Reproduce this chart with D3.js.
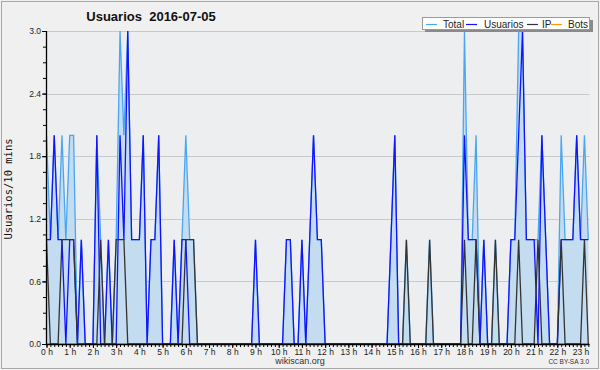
<!DOCTYPE html>
<html>
<head>
<meta charset="utf-8">
<script src="https://cdn.jsdelivr.net/npm/d3@7"></script>
<style>
  body { margin: 0; background: #f0f0f0; }
  svg { display: block; font-family: "Liberation Sans", Arial, sans-serif; }
</style>
</head>
<body>
<svg width="600" height="370"></svg>
<script>
var chartTitle = "Usuarios  2016-07-05";
var yLabel = "Usuarios/10 mins";

// values every 10 minutes, 00:00 .. 23:20 (what is visible in the plot)
var total = [
  2,1,2,1,2,1,2,2,0,1, 0,0,0,2,1,0,1,0,1,3, 2,3,1,1,1,2,0,1,1,2,
  0,0,0,1,0,1,2,1,1,0, 0,0,0,0,0,0,0,0,0,0, 0,0,0,0,1,0,0,0,0,0,
  0,0,1,1,0,0,1,0,1,2, 1,1,0,0,0,0,0,0,0,0, 0,0,0,0,0,0,0,0,0,1,
  2,0,0,1,0,0,0,0,0,1, 0,0,0,0,0,0,0,0,3,1, 1,2,0,1,0,0,1,0,0,0,
  1,1,3,3,1,1,1,1,2,1, 0,0,0,2,1,1,1,2,1,2, 1
];
var usuarios = [
  1,1,2,1,1,0,1,1,0,1, 0,0,0,2,0,0,1,0,0,2, 1,3,1,1,1,2,0,1,1,2,
  0,0,0,1,0,1,1,0,0,0, 0,0,0,0,0,0,0,0,0,0, 0,0,0,0,1,0,0,0,0,0,
  0,0,1,1,0,0,1,0,1,2, 1,1,0,0,0,0,0,0,0,0, 0,0,0,0,0,0,0,0,0,1,
  2,0,0,0,0,0,0,0,0,0, 0,0,0,0,0,0,0,0,2,1, 1,1,0,1,0,0,0,0,0,0,
  1,1,2,3,1,1,1,0,2,1, 0,0,0,1,1,1,1,2,1,1, 1
];
var ip = [
  1,0,0,0,1,1,1,1,0,0, 0,0,0,0,1,0,0,0,1,1, 1,0,0,0,0,0,0,0,0,0,
  0,0,0,0,0,0,1,1,1,0, 0,0,0,0,0,0,0,0,0,0, 0,0,0,0,0,0,0,0,0,0,
  0,0,0,0,0,0,0,0,0,0, 0,0,0,0,0,0,0,0,0,0, 0,0,0,0,0,0,0,0,0,0,
  0,0,0,1,0,0,0,0,0,1, 0,0,0,0,0,0,0,0,1,0, 0,1,0,0,0,0,1,0,0,0,
  0,0,1,0,0,0,0,1,0,0, 0,0,0,1,0,0,0,0,0,1, 0
];
var bots = [
  0,0,0,0,0,0,0,0,0,0, 0,0,0,0,0,0,0,0,0,0, 0,0,0,0,0,0,0,0,0,0,
  0,0,0,0,0,0,0,0,0,0, 0,0,0,0,0,0,0,0,0,0, 0,0,0,0,0,0,0,0,0,0,
  0,0,0,0,0,0,0,0,0,0, 0,0,0,0,0,0,0,0,0,0, 0,0,0,0,0,0,0,0,0,0,
  0,0,0,0,0,0,0,0,0,0, 0,0,0,0,0,0,0,0,0,0, 0,0,0,0,0,0,0,0,0,0,
  0,0,0,0,0,0,0,0,0,0, 0,0,0,0,0,0,0,0,0,0, 0
];
var seriesNames = ["Total", "Usuarios", "IP", "Bots"];
var seriesColors = ["#4aa6f0", "#1212ff", "#333333", "#ff9900"];
var hourLabels = ["0 h","1 h","2 h","3 h","4 h","5 h","6 h","7 h","8 h","9 h","10 h","11 h",
  "12 h","13 h","14 h","15 h","16 h","17 h","18 h","19 h","20 h","21 h","22 h","23 h"];
var yTicks = [0, 0.6, 1.2, 1.8, 2.4, 3.0];

var svg = d3.select("svg"),
  plot = { left: 46, right: 589.5, top: 31, bottom: 344 };

// page frame
svg.append("rect")
  .attr("x", 1.5).attr("y", 1.5).attr("width", 597).attr("height", 367)
  .attr("fill", "#f0f0f0").attr("stroke", "#a8a8a8");

svg.append("rect")
  .attr("x", plot.left).attr("y", plot.top)
  .attr("width", plot.right - plot.left).attr("height", plot.bottom - plot.top)
  .attr("fill", "#eceef0");

// index of 10 min step -> x ; 24 h spans a bit more than the plot, the end is clipped
var x = d3.scaleLinear().domain([0, 144]).range([46.5, 46.5 + 144 * 3.87]),
  y = d3.scaleLinear().domain([0, 3]).range([plot.bottom, plot.top]);

svg.append("clipPath").attr("id", "clip")
  .append("rect")
  .attr("x", plot.left).attr("y", plot.top - 2)
  .attr("width", plot.right - plot.left).attr("height", plot.bottom - plot.top + 2);

// grid
svg.append("g")
  .selectAll("line")
  .data(yTicks.slice(1))
  .enter().append("line")
  .attr("x1", plot.left).attr("x2", plot.right)
  .attr("y1", function(d) { return Math.round(y(d)) + 0.5; })
  .attr("y2", function(d) { return Math.round(y(d)) + 0.5; })
  .attr("stroke", "#c9c9c9");

var g = svg.append("g").attr("clip-path", "url(#clip)");

var area = d3.area()
  .x(function(d, i) { return x(i); })
  .y0(y(0))
  .y1(function(d) { return y(d); });

var line = d3.line()
  .x(function(d, i) { return x(i); })
  .y(function(d) { return y(d); });

g.append("path")
  .attr("d", area(total))
  .attr("fill", "#c4dcf0");

// drawing order: bots under everything, IP on top
var lines = [bots, total, usuarios, ip];
var lineColors = [seriesColors[3], seriesColors[0], seriesColors[1], seriesColors[2]];
lines.forEach(function(s, k) {
  g.append("path")
    .attr("d", line(s))
    .attr("fill", "none")
    .attr("stroke", lineColors[k])
    .attr("stroke-width", 1.3);
});

// x axis
var xAxis = svg.append("g")
  .attr("transform", "translate(0," + plot.bottom + ")");
xAxis.append("g")
  .call(d3.axisBottom(x).tickValues(d3.range(0, 141)).tickSize(3).tickFormat(""))
  .call(function(a) { a.select(".domain").remove(); });
xAxis.append("g")
  .call(d3.axisBottom(x)
    .tickValues(hourLabels.map(function(d, i) { return i * 6; }))
    .tickSize(4)
    .tickPadding(1)
    .tickFormat(function(d) { return hourLabels[d / 6]; }))
  .call(function(a) { a.select(".domain").remove(); })
  .selectAll("text")
  .attr("font-size", 8.5)
  .attr("fill", "#222")
  .attr("font-family", "Liberation Sans, Arial, sans-serif");
xAxis.selectAll(".tick line").attr("stroke", "#000");
xAxis.append("line")
  .attr("x1", plot.left).attr("x2", plot.right)
  .attr("y1", 0.5).attr("y2", 0.5)
  .attr("stroke", "#000").attr("stroke-width", 1.3);

// y axis
var yAxis = svg.append("g")
  .attr("transform", "translate(" + plot.left + ",0)");
yAxis.append("g")
  .call(d3.axisLeft(y).tickValues(d3.range(0, 21).map(function(d) { return d * 0.15; }))
    .tickSize(3).tickFormat(""))
  .call(function(a) { a.select(".domain").remove(); });
yAxis.append("g")
  .call(d3.axisLeft(y).tickValues(yTicks).tickSize(4).tickPadding(1)
    .tickFormat(d3.format(".1f")))
  .call(function(a) { a.select(".domain").remove(); })
  .selectAll("text")
  .attr("font-size", 8.5)
  .attr("fill", "#222")
  .attr("font-family", "Liberation Sans, Arial, sans-serif");
yAxis.selectAll(".tick line").attr("stroke", "#000");
yAxis.append("line")
  .attr("x1", 0.5).attr("x2", 0.5)
  .attr("y1", plot.top).attr("y2", plot.bottom)
  .attr("stroke", "#000").attr("stroke-width", 1.3);

// titles
svg.append("text")
  .attr("x", 151).attr("y", 21)
  .attr("text-anchor", "middle")
  .attr("font-size", 13).attr("font-weight", "bold")
  .attr("fill", "#111")
  .style("white-space", "pre")
  .text(chartTitle);

svg.append("text")
  .attr("transform", "translate(12,189) rotate(-90)")
  .attr("text-anchor", "middle")
  .attr("font-family", "DejaVu Sans Mono, monospace")
  .attr("font-size", 10.5)
  .attr("fill", "#111")
  .text(yLabel);

svg.append("text")
  .attr("x", 300).attr("y", 364)
  .attr("text-anchor", "middle")
  .attr("font-size", 9).attr("fill", "#333")
  .text("wikiscan.org");

svg.append("text")
  .attr("x", 589).attr("y", 364)
  .attr("text-anchor", "end")
  .attr("font-size", 6.5).attr("fill", "#333")
  .text("CC BY-SA 3.0");

// legend
var legend = svg.append("g");
legend.append("rect")
  .attr("x", 425).attr("y", 20).attr("width", 168).attr("height", 12)
  .attr("fill", "#8a8a8a");
legend.append("rect")
  .attr("x", 422.5).attr("y", 17.5).attr("width", 167).attr("height", 12)
  .attr("fill", "#fff").attr("stroke", "#9a9a9a");

var legendX = [426, 466, 527, 551];
var legendTextX = [443, 484, 542, 568];
seriesNames.forEach(function(name, k) {
  legend.append("line")
    .attr("x1", legendX[k]).attr("x2", legendX[k] + 11)
    .attr("y1", 24.5).attr("y2", 24.5)
    .attr("stroke", seriesColors[k]).attr("stroke-width", 1.2);
  legend.append("text")
    .attr("x", legendTextX[k]).attr("y", 27.5)
    .attr("font-size", 10).attr("fill", "#222")
    .text(name);
});
</script>
</body>
</html>
